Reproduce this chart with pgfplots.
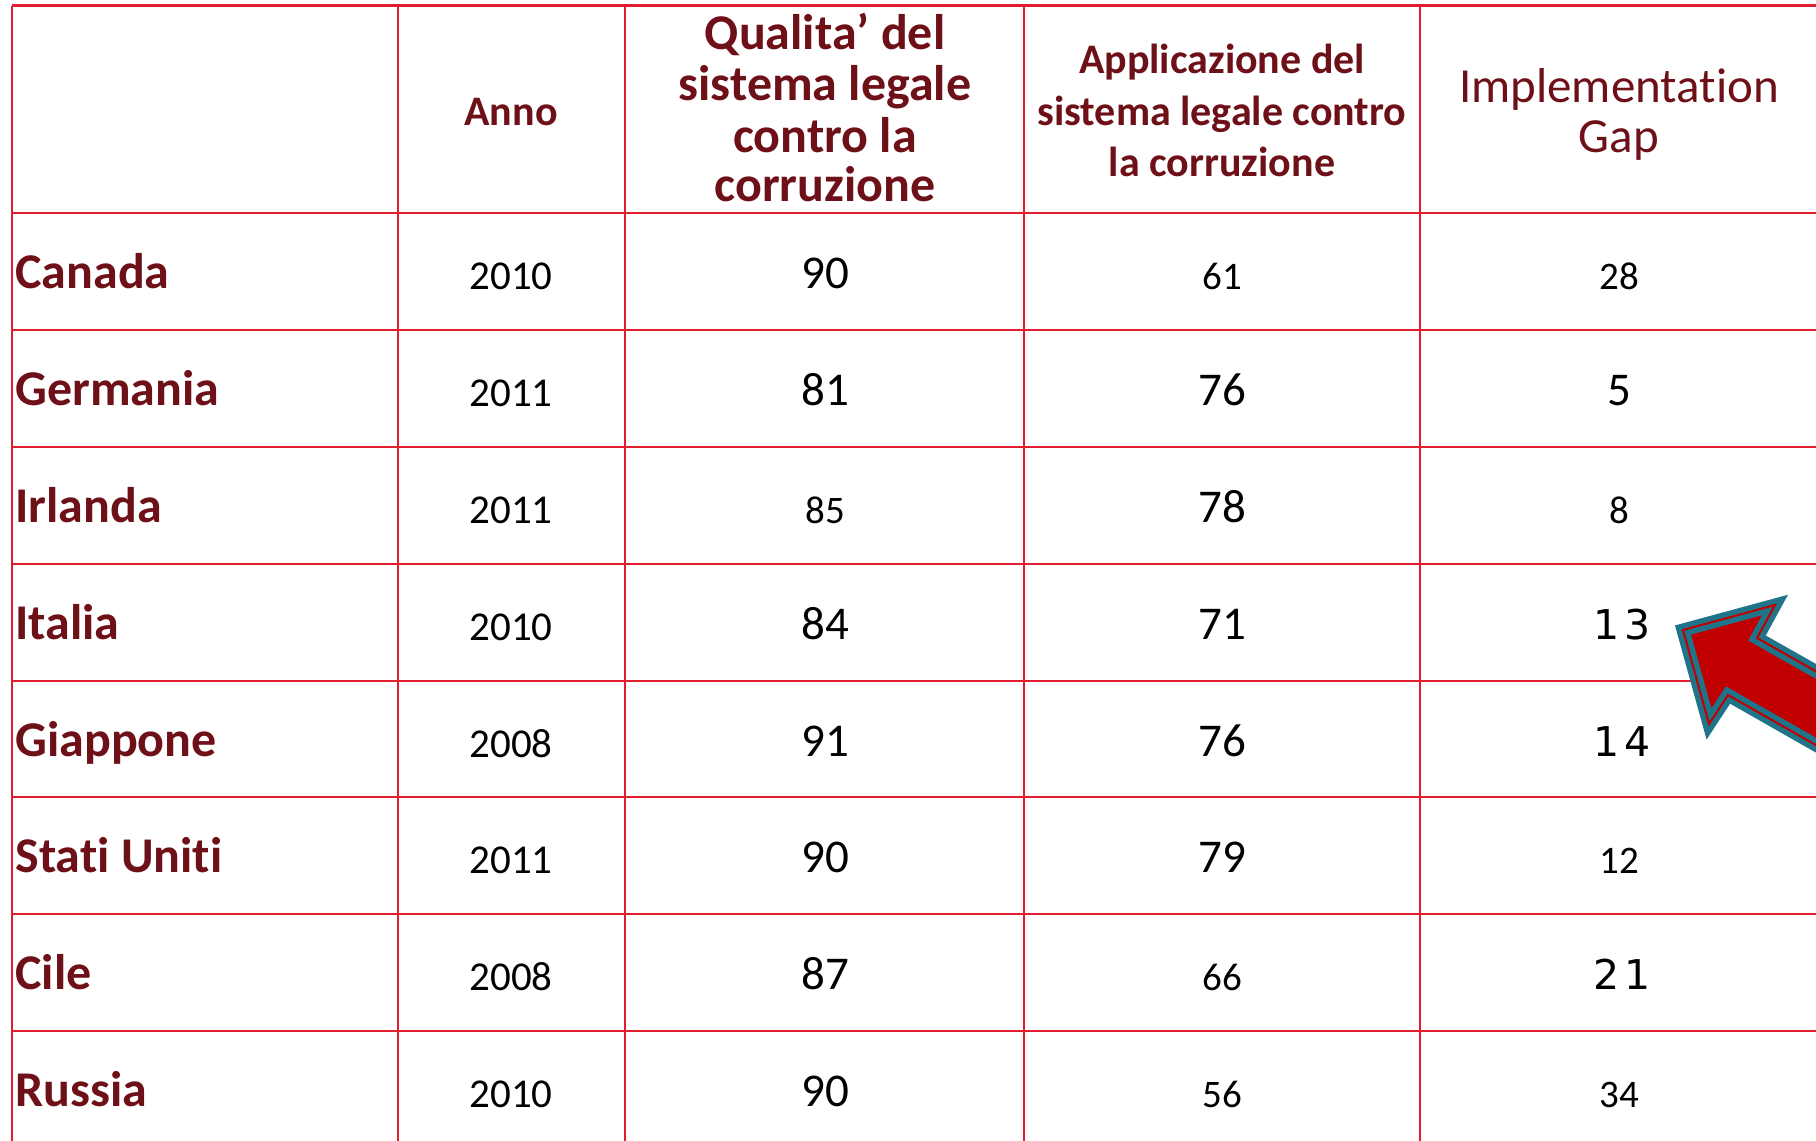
\documentclass[border=0pt]{standalone}
\usepackage{pgfplots}
\pgfplotsset{compat=1.18}
\usepackage{fontspec}
\setmainfont[Ligatures=NoCommon]{Carlito}
\newfontfamily\lucida[LetterSpace=12]{DejaVu Sans}
\definecolor{gridred}{RGB}{225,30,45}
\definecolor{hdr}{RGB}{110,16,24}
\definecolor{arrowred}{RGB}{192,0,0}
\definecolor{arrowteal}{RGB}{31,116,138}
\pgfplotsset{
  txt/.style={only marks, mark=none, point meta=explicit symbolic, nodes near coords,
    every node near coord/.append style={inner sep=0pt, anchor=base, #1}},
  hl/.style={gridred, line width=1.4pt, mark=none},
  vl/.style={gridred, line width=1.1pt, mark=none},
}
\begin{document}
\begin{tikzpicture}
\useasboundingbox (0,0) rectangle (908pt,570.5pt);
\begin{axis}[
  width=908pt, height=570.5pt, scale only axis,
  xmin=0, xmax=1816, ymin=0, ymax=1141, y dir=reverse,
  hide axis,
]
% grid lines
\addplot[hl] coordinates {(11.6,5.8) (1830,5.8)};
\addplot[hl] coordinates {(11.6,213) (1830,213)};
\addplot[hl] coordinates {(11.6,330) (1830,330)};
\addplot[hl] coordinates {(11.6,447) (1830,447)};
\addplot[hl] coordinates {(11.6,564) (1830,564)};
\addplot[hl] coordinates {(11.6,681) (1830,681)};
\addplot[hl] coordinates {(11.6,797) (1830,797)};
\addplot[hl] coordinates {(11.6,914) (1830,914)};
\addplot[hl] coordinates {(11.6,1031) (1830,1031)};
\addplot[vl] coordinates {(11.6,5.8) (11.6,1160)};
\addplot[vl] coordinates {(398,5.8) (398,1160)};
\addplot[vl] coordinates {(625,5.8) (625,1160)};
\addplot[vl] coordinates {(1024,5.8) (1024,1160)};
\addplot[vl] coordinates {(1420,5.8) (1420,1160)};
% header
\addplot[txt={font=\fontsize{21pt}{25pt}\selectfont\bfseries, text=hdr}] coordinates {(511,125) [Anno]};
\addplot[txt={font=\fontsize{25pt}{25pt}\selectfont\bfseries, text=hdr}] coordinates {
 (825,49) [Qualita’ del] (825,100) [sistema legale] (825,152) [contro la] (825,201) [corruzione]};
\addplot[txt={font=\fontsize{21pt}{25pt}\selectfont\bfseries, text=hdr}] coordinates {
 (1222,73) [Applicazione del] (1222,125) [sistema legale contro] (1222,176) [la corruzione]};
\addplot[txt={font=\fontsize{24.5pt}{25pt}\selectfont, text=hdr}] coordinates {
 (1619,102) [Implementation] (1619,152) [Gap]};
% countries
\addplot[txt={anchor=base west, font=\fontsize{25pt}{30pt}\selectfont\bfseries, text=hdr}] coordinates {
 (15,288) [Canada] (15,405) [Germania] (15,522) [Irlanda] (15,639) [Italia]
 (15,756) [Giappone] (15,872) [Stati Uniti] (15,989) [Cile] (15,1106) [Russia]};
% years
\addplot[txt={font=\fontsize{20.5pt}{25pt}\selectfont, text=black}] coordinates {
 (511,289) [2010] (511,406) [2011] (511,523) [2011] (511,640) [2010]
 (511,757) [2008] (511,873) [2011] (511,990) [2008] (511,1107) [2010]};
% large numbers
\addplot[txt={font=\fontsize{23.5pt}{25pt}\selectfont, text=black}] coordinates {
 (825,288) [90] (825,405) [81] (825,639) [84] (825,756) [91] (825,872) [90] (825,989) [87] (825,1106) [90]
 (1222,405) [76] (1222,522) [78] (1222,639) [71] (1222,756) [76] (1222,872) [79]
 (1619,405) [5]};
% small numbers
\addplot[txt={font=\fontsize{19.5pt}{25pt}\selectfont, text=black}] coordinates {
 (825,523) [85]
 (1222,289) [61] (1222,990) [66] (1222,1107) [56]
 (1619,289) [28] (1619,523) [8] (1619,873) [12] (1619,1107) [34]};
% wide numbers
\addplot[txt={font=\lucida\fontsize{20.5pt}{25pt}\selectfont, text=black}] coordinates {
 (1622,639) [13] (1622,756) [14] (1622,989) [21]};
% arrow
\addplot[fill=arrowred, draw=arrowteal, line width=6.5pt, line join=miter, mark=none] coordinates {
 (1683,630) (1775,605) (1757,638) (1900,719) (1900,793) (1728,695) (1709,724) (1683,630)} -- cycle;
\addplot[draw=arrowred, line width=1pt, line join=miter, mark=none] coordinates {
 (1683,630) (1775,605) (1757,638) (1900,719) (1900,793) (1728,695) (1709,724) (1683,630)} -- cycle;
\end{axis}
\end{tikzpicture}
\end{document}
